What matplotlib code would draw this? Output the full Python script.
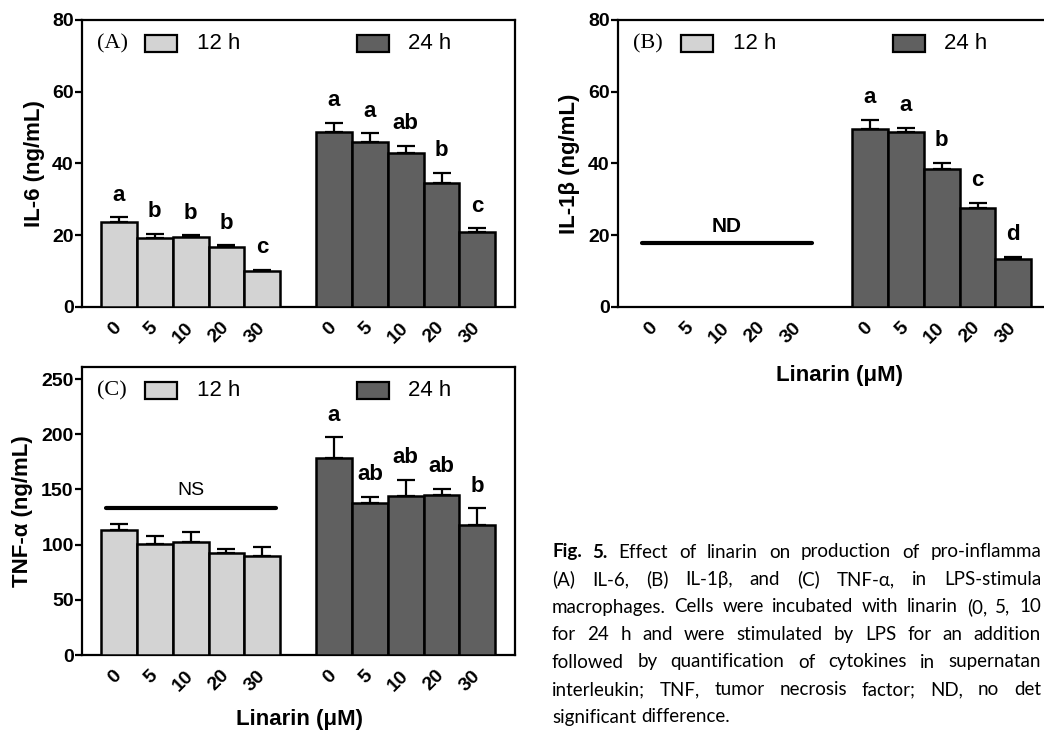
import numpy as np
import matplotlib.pyplot as plt
from matplotlib.patches import Rectangle

plt.rcParams['font.family'] = ['Liberation Sans', 'DejaVu Sans']
plt.rcParams['font.weight'] = 'bold'
plt.rcParams['axes.labelweight'] = 'bold'

# linarin doses (uM), same for both incubation times
doses = ['0', '5', '10', '20', '30']

# (A) IL-6, ng/mL
il6_12h = [23.6, 19.2, 19.5, 16.6, 9.9]
il6_12h_err = [1.4, 1.2, 0.5, 0.6, 0.4]
il6_12h_sig = ['a', 'b', 'b', 'b', 'c']
il6_24h = [48.9, 45.9, 42.8, 34.7, 20.9]
il6_24h_err = [2.5, 2.5, 2.1, 2.7, 1.0]
il6_24h_sig = ['a', 'a', 'ab', 'b', 'c']

# (B) IL-1beta, ng/mL (12 h not detected)
il1b_24h = [49.5, 48.8, 38.5, 27.7, 13.4]
il1b_24h_err = [2.6, 1.1, 1.6, 1.3, 0.5]
il1b_24h_sig = ['a', 'a', 'b', 'c', 'd']

# (C) TNF-alpha, ng/mL (12 h not significant)
tnf_12h = [113.4, 101.0, 102.8, 92.8, 90.1]
tnf_12h_err = [5.4, 7.2, 8.4, 3.6, 8.2]
tnf_24h = [178.9, 137.5, 144.2, 145.1, 117.6]
tnf_24h_err = [18.5, 6.0, 14.5, 5.4, 15.4]
tnf_24h_sig = ['a', 'ab', 'ab', 'ab', 'b']

# caption as it shows in the (cropped) figure
caption_lines = [
    'Fig. 5. Effect of linarin on production of pro-inflamma',
    '(A) IL-6, (B) IL-1\u03b2, and (C) TNF-\u03b1, in LPS-stimula',
    'macrophages. Cells were incubated with linarin (0, 5, 10',
    'for 24 h and were stimulated by LPS for an addition',
    'followed by quantification of cytokines in supernatan',
    'interleukin; TNF, tumor necrosis factor; ND, no det',
    'significant difference.',
]

LIGHT = '#d3d3d3'
DARK = '#606060'
W, H = 1044, 733

fig = plt.figure(figsize=(W / 100, H / 100), dpi=100)


def px_axes(left, top, w, h):
    return fig.add_axes([left / W, 1 - (top + h) / H, w / W, h / H])


x12 = np.arange(5)
x24 = np.arange(5) + 6


def draw_bars(ax, x, vals, errs, color, sig=None):
    ax.bar(x, vals, width=1.0, color=color, edgecolor='k', linewidth=1.8, zorder=3)
    ax.errorbar(x, vals, yerr=[np.zeros(len(vals)), errs], fmt='none', ecolor='k',
                elinewidth=1.6, capsize=6.5, capthick=1.6, zorder=2)
    if sig:
        for xi, v, e, s in zip(x, vals, errs, sig):
            ax.annotate(s, (xi, v + e), xytext=(0, 12), textcoords='offset points',
                        ha='center', va='baseline', fontsize=16)


def style_axes(ax, ymax, yticks, ylabel, tag, label_x):
    ax.set_xlim(-1.03, 11.05)
    ax.set_ylim(0, ymax)
    ax.set_yticks(yticks)
    ax.set_xticks(np.concatenate([x12, x24]))
    ax.set_xticklabels(doses * 2, rotation=45, ha='right', va='center',
                       rotation_mode='anchor')
    ax.tick_params(axis='y', direction='out', length=5, width=1.6, pad=1, labelsize=14)
    ax.tick_params(axis='x', length=0, pad=13, labelsize=14)
    for sp in ax.spines.values():
        sp.set_linewidth(1.6)
    ax.set_ylabel(ylabel, fontsize=16, fontweight='bold')
    ax.yaxis.set_label_coords(label_x, 0.5)
    # legend drawn by hand: panel tag, then the two boxes
    yc = 0.918
    ax.text(0.035, yc, tag, transform=ax.transAxes, family='Liberation Serif',
            fontweight='normal', fontsize=16, va='center', ha='left')
    for x0, col, lab in [(0.146, LIGHT, '12 h'), (0.634, DARK, '24 h')]:
        ax.add_patch(Rectangle((x0, yc - 0.03), 0.074, 0.06, transform=ax.transAxes,
                               facecolor=col, edgecolor='k', linewidth=1.6, zorder=5))
        ax.text(x0 + 0.12, yc, lab, transform=ax.transAxes, fontweight='normal',
                fontsize=16, va='center', ha='left')


# (A)
axA = px_axes(82, 20, 433, 287)
draw_bars(axA, x12, il6_12h, il6_12h_err, LIGHT, il6_12h_sig)
draw_bars(axA, x24, il6_24h, il6_24h_err, DARK, il6_24h_sig)
style_axes(axA, 80, [0, 20, 40, 60, 80], 'IL-6 (ng/mL)', '(A)', -0.085)

# (B)
axB = px_axes(618, 20, 433, 287)
draw_bars(axB, x24, il1b_24h, il1b_24h_err, DARK, il1b_24h_sig)
axB.plot([-0.35, 4.37], [17.8, 17.8], color='k', lw=3, solid_capstyle='round')
axB.text(2, 21.0, 'ND', ha='center', va='baseline', fontsize=15)
style_axes(axB, 80, [0, 20, 40, 60, 80], 'IL-1\u03b2 (ng/mL)', '(B)', -0.088)
fig.text(840 / W, 1 - 375 / H, 'Linarin (\u03bcM)', ha='center', va='center', fontsize=16)

# (C)
axC = px_axes(82, 367, 433, 288)
draw_bars(axC, x12, tnf_12h, tnf_12h_err, LIGHT)
draw_bars(axC, x24, tnf_24h, tnf_24h_err, DARK, tnf_24h_sig)
axC.plot([-0.35, 4.37], [133.6, 133.6], color='k', lw=3, solid_capstyle='round')
axC.text(2, 145, 'NS', ha='center', va='baseline', fontsize=14, fontweight='normal')
style_axes(axC, 261, [0, 50, 100, 150, 200, 250], 'TNF-\u03b1 (ng/mL)', '(C)', -0.113)
fig.text(300 / W, 1 - 720 / H, 'Linarin (\u03bcM)', ha='center', va='center', fontsize=16)

# caption, justified word by word between fixed edges
fig.canvas.draw()
renderer = fig.canvas.get_renderer()
x_left, x_right = 552, 1041
fs = 13.5
for i, line in enumerate(caption_lines):
    y = 1 - (552 + i * 27.5) / H
    words = line.split(' ')
    texts = []
    for j, w in enumerate(words):
        wt = 'bold' if (i == 0 and j < 2) else 'normal'
        texts.append(fig.text(0, y, w, fontsize=fs, family=['Lato', 'DejaVu Sans'],
                              fontweight=wt, va='center', ha='left'))
    widths = [t.get_window_extent(renderer).width for t in texts]
    if i < len(caption_lines) - 1:
        gap = (x_right - x_left - sum(widths)) / (len(words) - 1)
    else:
        gap = fs * 0.27 * 100 / 72
    xp = x_left
    for t, wd in zip(texts, widths):
        t.set_x(xp / W)
        xp += wd + gap

fig.savefig('out.png', dpi=100)
